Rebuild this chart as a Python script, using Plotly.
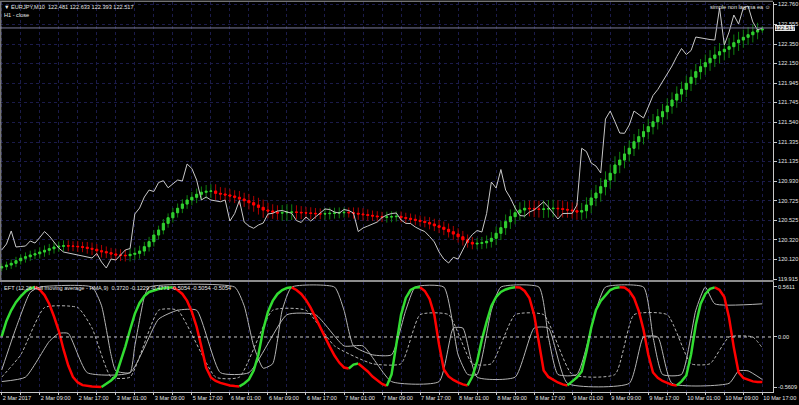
import plotly.graph_objects as go

FONT = "Liberation Sans, Arial"
FS = 5.6
GRID = "#1b1b4a"
TXT = "#e6e6e6"

# x axis: one bar per hour, label every 8 bars
time_labels = ["2 Mar 2017", "2 Mar 09:00", "2 Mar 17:00", "3 Mar 01:00", "3 Mar 09:00",
               "5 Mar 17:00", "6 Mar 01:00", "6 Mar 09:00", "6 Mar 17:00", "7 Mar 01:00",
               "7 Mar 09:00", "7 Mar 17:00", "8 Mar 01:00", "8 Mar 09:00", "8 Mar 17:00",
               "9 Mar 01:00", "9 Mar 09:00", "9 Mar 17:00", "10 Mar 01:00", "10 Mar 09:00",
               "10 Mar 17:00"]

price_ticks = [119.915, 120.120, 120.320, 120.525, 120.725, 120.930, 121.135, 121.335,
               121.540, 121.745, 121.945, 122.150, 122.350, 122.555, 122.760]

# H1 close (grey line)
h1_close = [
    120.216, 120.278, 120.413, 120.247, 120.252, 120.257, 120.309, 120.288, 120.345, 120.407,
    120.361, 120.299, 120.236, 120.195, 120.185, 120.174, 120.159, 120.148, 120.138, 120.133,
    120.179, 120.091, 120.029, 120.122, 120.112, 120.164, 120.216, 120.231, 120.589, 120.651,
    120.765, 120.837, 120.822, 120.915, 120.934, 120.861, 120.905, 120.941, 120.931, 121.107,
    121.060, 120.941, 120.734, 120.765, 120.734, 120.723, 120.716, 120.734, 120.516, 120.594,
    120.729, 120.506, 120.464, 120.441, 120.475, 120.495, 120.589, 120.596, 120.620, 120.625,
    120.609, 120.596, 120.521, 120.501, 120.558, 120.516, 120.558, 120.599, 120.641, 120.635,
    120.609, 120.599, 120.635, 120.625, 120.599, 120.407, 120.444, 120.464, 120.485, 120.506,
    120.552, 120.578, 120.594, 120.599, 120.527, 120.492, 120.490, 120.454, 120.428, 120.407,
    120.356, 120.299, 120.195, 120.122, 120.081, 120.140, 120.122, 120.226, 120.314, 120.376,
    120.418, 120.402, 120.594, 120.920, 120.858, 121.050, 120.837, 120.755, 120.651, 120.573,
    120.568, 120.609, 120.630, 120.672, 120.716, 120.661, 120.599, 120.537, 120.594, 120.596,
    120.596, 120.682, 121.270, 121.236, 121.117, 121.086, 121.014, 121.573, 121.656, 121.545,
    121.428, 121.425, 121.511, 121.656, 121.615, 121.584, 121.698, 121.817, 121.879, 121.957,
    122.035, 122.123, 122.221, 122.304, 122.242, 122.283, 122.423, 122.413, 122.408, 122.397,
    122.392, 122.724, 122.340, 122.475, 122.651, 122.558, 122.724, 122.744, 122.579, 122.496,
    122.517]

# non lag ma candles: close of each bar, first open, wick size
nl_first_open = 120.030
nl_close = [
    120.043, 120.060, 120.078, 120.105, 120.130, 120.146, 120.164, 120.177, 120.195, 120.213,
    120.229, 120.247, 120.254, 120.260, 120.257, 120.254, 120.250, 120.244, 120.233, 120.223,
    120.208, 120.198, 120.188, 120.174, 120.164, 120.161, 120.157, 120.171, 120.181, 120.205,
    120.250, 120.302, 120.371, 120.423, 120.492, 120.550, 120.602, 120.648, 120.692, 120.734,
    120.762, 120.793, 120.814, 120.824, 120.827, 120.803, 120.796, 120.786, 120.775, 120.762,
    120.744, 120.727, 120.706, 120.682, 120.658, 120.630, 120.620, 120.609, 120.599, 120.602,
    120.606, 120.609, 120.606, 120.602, 120.599, 120.596, 120.592, 120.589, 120.592, 120.596,
    120.599, 120.602, 120.606, 120.602, 120.596, 120.589, 120.582, 120.575, 120.568, 120.561,
    120.555, 120.558, 120.561, 120.565, 120.552, 120.544, 120.534, 120.523, 120.513, 120.501,
    120.485, 120.467, 120.451, 120.430, 120.405, 120.381, 120.353, 120.322, 120.295, 120.278,
    120.285, 120.291, 120.306, 120.337, 120.389, 120.447, 120.509, 120.561, 120.602, 120.630,
    120.648, 120.644, 120.641, 120.637, 120.641, 120.644, 120.648, 120.644, 120.637, 120.630,
    120.623, 120.609, 120.623, 120.682, 120.755, 120.806, 120.872, 120.941, 121.011, 121.097,
    121.148, 121.211, 121.270, 121.338, 121.390, 121.442, 121.494, 121.545, 121.597, 121.649,
    121.708, 121.770, 121.832, 121.881, 121.943, 122.006, 122.064, 122.115, 122.157, 122.202,
    122.237, 122.271, 122.296, 122.323, 122.364, 122.392, 122.420, 122.447, 122.475, 122.496,
    122.506]
nl_wick = [
    0.035, 0.035, 0.04, 0.04, 0.04, 0.045, 0.045, 0.045, 0.05, 0.05,
    0.05, 0.05, 0.05, 0.055, 0.055, 0.05, 0.055, 0.05, 0.055, 0.06,
    0.055, 0.06, 0.055, 0.05, 0.055, 0.06, 0.06, 0.06, 0.06, 0.055,
    0.05, 0.05, 0.05, 0.045, 0.045, 0.045, 0.05, 0.05, 0.05, 0.05,
    0.055, 0.06, 0.06, 0.065, 0.07, 0.07, 0.065, 0.065, 0.06, 0.06,
    0.065, 0.065, 0.07, 0.07, 0.075, 0.08, 0.075, 0.07, 0.07, 0.08,
    0.085, 0.08, 0.07, 0.065, 0.06, 0.06, 0.055, 0.055, 0.06, 0.06,
    0.055, 0.055, 0.05, 0.05, 0.055, 0.06, 0.06, 0.055, 0.05, 0.05,
    0.05, 0.055, 0.055, 0.05, 0.05, 0.05, 0.05, 0.05, 0.05, 0.05,
    0.055, 0.055, 0.06, 0.06, 0.06, 0.06, 0.06, 0.06, 0.055, 0.055,
    0.055, 0.06, 0.06, 0.065, 0.07, 0.07, 0.075, 0.075, 0.08, 0.08,
    0.08, 0.08, 0.085, 0.085, 0.09, 0.09, 0.09, 0.085, 0.085, 0.08,
    0.08, 0.08, 0.08, 0.08, 0.085, 0.085, 0.09, 0.09, 0.09, 0.09,
    0.085, 0.085, 0.08, 0.08, 0.08, 0.08, 0.08, 0.08, 0.08, 0.08,
    0.08, 0.08, 0.08, 0.08, 0.08, 0.08, 0.08, 0.08, 0.085, 0.085,
    0.09, 0.09, 0.09, 0.09, 0.085, 0.085, 0.08, 0.08, 0.08, 0.075,
    0.03]

# EFT / HMA oscillator (coloured line)
hma = [
    0.007, 0.18, 0.30, 0.39, 0.455, 0.51, 0.544, 0.5611, 0.53, 0.47,
    0.37, 0.23, 0.07, -0.14, -0.32, -0.45, -0.51, -0.54, -0.55, -0.555,
    -0.558, -0.5609, -0.526, -0.487, -0.437, -0.275, -0.108, 0.081, 0.26, 0.382,
    0.46, 0.505, 0.524, 0.538, 0.546, 0.553, 0.557, 0.527, 0.483, 0.405,
    0.282, 0.115, -0.108, -0.342, -0.454, -0.493, -0.515, -0.532, -0.543, -0.551,
    -0.554, -0.521, -0.476, -0.376, -0.197, 0.081, 0.282, 0.405, 0.483, 0.527,
    0.55, 0.557, 0.527, 0.483, 0.416, 0.327, 0.215, 0.104, -0.008, -0.108,
    -0.208, -0.287, -0.342, -0.353, -0.309, -0.298, -0.342, -0.387, -0.443, -0.487,
    -0.526, -0.549, -0.42, -0.086, 0.249, 0.438, 0.527, 0.555, 0.557, 0.516,
    0.427, 0.249, -0.086, -0.365, -0.443, -0.482, -0.51, -0.532, -0.543, -0.443,
    -0.275, -0.03, 0.17, 0.349, 0.449, 0.505, 0.533, 0.55, 0.557, 0.555,
    0.516, 0.438, 0.249, -0.052, -0.376, -0.448, -0.482, -0.51, -0.532, -0.543,
    -0.498, -0.454, -0.387, -0.164, 0.104, 0.304, 0.405, 0.472, 0.527, 0.55,
    0.557, 0.555, 0.516, 0.438, 0.293, 0.081, -0.197, -0.398, -0.459, -0.493,
    -0.515, -0.537, -0.543, -0.498, -0.432, -0.197, 0.137, 0.371, 0.483, 0.539,
    0.557, 0.527, 0.449, 0.215, -0.119, -0.398, -0.459, -0.482, -0.498, -0.504,
    -0.5054]

# grey EFT lines, read as (bar, value) vertices
eft1_bars = [0, 3, 6, 8, 19, 21, 23, 24, 27, 28, 30, 31, 49, 51, 53, 55, 57, 59, 61, 70, 72, 74,
             78, 82, 85, 87, 93, 96, 98, 100, 103, 105, 113, 115, 117, 121, 125, 127, 135, 137,
             139, 143, 146, 148, 150, 160]
eft1_vals = [-0.37, 0.10, 0.50, 0.56, 0.56, 0.35, -0.2, -0.38, -0.40, -0.1, 0.45, 0.56, 0.56, 0.35,
             -0.1, -0.35, -0.3, 0.3, 0.56, 0.56, 0.3, -0.1, -0.2, -0.2, 0.3, 0.56, 0.56, -0.2, -0.42,
             -0.42, 0.3, 0.56, 0.56, 0.0, -0.42, -0.42, 0.3, 0.56, 0.56, 0.0, -0.42, -0.42, 0.3,
             0.56, 0.372, 0.372]
eft2_bars = [0, 4, 9, 16, 19, 23, 27, 33, 37, 45, 50, 57, 64, 70, 78, 84, 88, 94, 99, 103, 108,
             114, 120, 129, 133, 140, 145, 149, 153, 158, 160]
eft2_vals = [-0.45, -0.2, 0.33, 0.33, 0.1, -0.45, -0.45, 0.3, 0.3, -0.45, -0.45, 0.3, 0.3, -0.1,
             -0.3, -0.3, 0.25, 0.25, -0.3, -0.3, 0.25, 0.25, -0.42, -0.42, 0.25, 0.25, -0.3, -0.3,
             0.0, 0.0, -0.1229]
eft3_bars = [0, 5, 10, 12, 14, 18, 27, 33, 37, 41, 46, 52, 60, 66, 72, 76, 82, 92, 95, 97, 100,
             108, 112, 115, 119, 132, 135, 138, 141, 153, 155, 157, 160]
eft3_vals = [-0.5, -0.45, -0.05, 0.04, 0.04, -0.4, -0.4, 0.2, 0.3, 0.3, -0.4, -0.4, 0.25, 0.25,
             -0.1, -0.1, -0.5, -0.5, 0.1, 0.1, -0.45, -0.45, 0.1, 0.1, -0.52, -0.52, 0.0, 0.0,
             -0.52, -0.52, -0.38, -0.38, -0.4771]

assert len(h1_close) == len(nl_close) == len(nl_wick) == len(hma) == 161
assert len(eft1_bars) == len(eft1_vals) and len(eft2_bars) == len(eft2_vals) and len(eft3_bars) == len(eft3_vals)

bars = list(range(len(nl_close)))
nl_open = [nl_first_open] + nl_close[:-1]
body_hi = [max(o, c) for o, c in zip(nl_open, nl_close)]
body_lo = [min(o, c) for o, c in zip(nl_open, nl_close)]
nl_high = [h + w for h, w in zip(body_hi, nl_wick)]
nl_low = [l - w for l, w in zip(body_lo, nl_wick)]

fig = go.Figure()

# wicks (darker)
fig.add_trace(go.Candlestick(
    x=bars, open=nl_open, high=nl_high, low=nl_low, close=nl_close,
    increasing=dict(line=dict(color="#0f800f", width=1), fillcolor="#0f800f"),
    decreasing=dict(line=dict(color="#b00000", width=1), fillcolor="#b00000"),
    whiskerwidth=0, hoverinfo="skip", xaxis="x", yaxis="y"))
# bodies (bright)
fig.add_trace(go.Candlestick(
    x=bars, open=nl_open, high=body_hi, low=body_lo, close=nl_close,
    increasing=dict(line=dict(color="#32cd32", width=1), fillcolor="#32cd32"),
    decreasing=dict(line=dict(color="#ff0000", width=1), fillcolor="#ff0000"),
    whiskerwidth=0, hoverinfo="skip", xaxis="x", yaxis="y"))

fig.add_trace(go.Scatter(x=bars, y=h1_close, mode="lines",
                         line=dict(color="#c8c8c8", width=1), xaxis="x", yaxis="y"))

# lower panel grey lines
fig.add_trace(go.Scatter(x=eft1_bars, y=eft1_vals, mode="lines",
                         line=dict(color="#b4b4b4", width=1, shape="spline", smoothing=0.5),
                         xaxis="x2", yaxis="y2"))
fig.add_trace(go.Scatter(x=eft2_bars, y=eft2_vals, mode="lines",
                         line=dict(color="#b4b4b4", width=1, dash="3px,2px", shape="spline", smoothing=0.5),
                         xaxis="x2", yaxis="y2"))
fig.add_trace(go.Scatter(x=eft3_bars, y=eft3_vals, mode="lines",
                         line=dict(color="#b4b4b4", width=1, shape="spline", smoothing=0.5),
                         xaxis="x2", yaxis="y2"))

# coloured HMA: green while rising, red while falling
runs = []
for i in range(1, len(hma)):
    col = "#32dc32" if hma[i] >= hma[i - 1] else "#ff0000"
    if runs and runs[-1][0] == col:
        runs[-1][1].append(i)
    else:
        runs.append([col, [i - 1, i]])
for col, idx in runs:
    fig.add_trace(go.Scatter(x=idx, y=[hma[k] for k in idx], mode="lines",
                             line=dict(color=col, width=2.5), xaxis="x2", yaxis="y2"))

x_range = [-0.36, 162.24]
fig.update_layout(
    width=799, height=405,
    paper_bgcolor="black", plot_bgcolor="black",
    margin=dict(l=0, r=26, t=2, b=13, autoexpand=False),
    showlegend=False, hovermode=False, boxgap=0.4,
    font=dict(family=FONT, size=FS, color=TXT),
    xaxis=dict(domain=[0, 1], anchor="y", range=x_range, tickvals=list(range(0, 161, 4)),
               showticklabels=False, ticks="", showgrid=True, gridcolor=GRID, griddash="dot",
               zeroline=False, showline=True, linecolor="#8c8c8c", linewidth=2,
               automargin=False, rangeslider=dict(visible=False)),
    yaxis=dict(domain=[0.2872, 1], anchor="x", side="right", range=[119.905, 122.786],
               tickvals=price_ticks, ticktext=[f"{v:.3f}" for v in price_ticks],
               ticks="outside", ticklen=3, tickcolor="#c8c8c8", automargin=False,
               showgrid=True, gridcolor=GRID, griddash="dot", zeroline=False,
               showline=True, linecolor="#c8c8c8", linewidth=1),
    xaxis2=dict(domain=[0, 1], anchor="y2", range=x_range, tickvals=list(range(0, 161, 4)),
                ticktext=[time_labels[k // 8] if k % 8 == 0 else "" for k in range(0, 161, 4)],
                ticklabelposition="outside right", tickangle=0, ticks="outside", ticklen=2,
                tickcolor="#c8c8c8", automargin=False,
                showgrid=True, gridcolor=GRID, griddash="dot", zeroline=False,
                showline=True, linecolor="#c8c8c8", linewidth=1, rangeslider=dict(visible=False)),
    yaxis2=dict(domain=[0, 0.2821], anchor="x2", side="right", range=[-0.617, 0.617],
                tickvals=[0.5611, 0, -0.5609], ticktext=["0.5611", "0.00", "-0.5609"],
                ticks="outside", ticklen=3, tickcolor="#c8c8c8", automargin=False,
                showgrid=False, zeroline=False, showline=True, linecolor="#c8c8c8", linewidth=1),
)

# zero line of the oscillator, bid line, borders
fig.add_shape(type="line", xref="x2 domain", yref="y2", x0=0, x1=1, y0=0, y1=0,
              line=dict(color="#c8c8c8", width=1, dash="dot"))
fig.add_shape(type="line", xref="x domain", yref="y", x0=0, x1=1, y0=h1_close[-1], y1=h1_close[-1],
              line=dict(color="#7a7a9a", width=1))
fig.add_shape(type="line", xref="paper", yref="paper", x0=0, x1=1, y0=1.002, y1=1.002,
              line=dict(color="#a0a0a0", width=1))
fig.add_shape(type="line", xref="paper", yref="y domain", x0=0.001, x1=0.001, y0=0, y1=1,
              line=dict(color="#a0a0a0", width=1))

fig.add_annotation(xref="paper", yref="y", x=1.003, y=h1_close[-1], xanchor="left", yanchor="middle",
                   text=f"{h1_close[-1]:.3f}", showarrow=False, font=dict(size=FS, color="black"),
                   bgcolor="#e6e6e6", bordercolor="#e6e6e6", borderwidth=0, borderpad=0)
fig.add_annotation(xref="paper", yref="paper", x=0.003, y=0.999, xanchor="left", yanchor="top",
                   text="\u25bc EURJPY,M10\u00a0\u00a0122.481\u00a0122.633\u00a0122.393\u00a0122.517",
                   showarrow=False, font=dict(size=FS, color=TXT))
fig.add_annotation(xref="paper", yref="paper", x=0.003, y=0.98, xanchor="left", yanchor="top",
                   text="H1 - close", showarrow=False, font=dict(size=FS, color=TXT))
fig.add_annotation(xref="paper", yref="paper", x=0.9985, y=0.999, xanchor="right", yanchor="top",
                   text="simple non lag ma ea \u263a", showarrow=False, font=dict(size=FS, color=TXT))
fig.add_annotation(xref="paper", yref="y2 domain", x=0.003, y=0.995, xanchor="left", yanchor="top",
                   text="EFT (12,26,Hull moving average - HMA,9)\u00a0\u00a00.3720 -0.1229 -0.4771 -0.5054 -0.5054 -0.5054",
                   showarrow=False, font=dict(size=FS, color=TXT))

# the page body has a default margin; remove it so the figure sits at the window's corner
fig.write_html("out.html", config={"displayModeBar": False},
               post_script="document.body.style.margin='0px';")
